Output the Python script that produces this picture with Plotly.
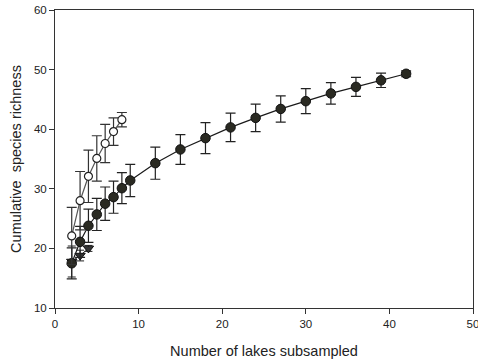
import plotly.graph_objects as go

# Open circles
open_x = [2, 3, 4, 5, 6, 7, 8]
open_y = [22.1, 28.0, 32.1, 35.1, 37.6, 39.6, 41.6]
open_err = [4.8, 4.9, 4.4, 3.8, 3.2, 2.3, 1.2]

# Filled circles
fill_x = [2, 3, 4, 5, 6, 7, 8, 9, 12, 15, 18, 21, 24, 27, 30, 33, 36, 39, 42]
fill_y = [17.5, 21.1, 23.8, 25.7, 27.5, 28.6, 30.1, 31.4, 34.3, 36.6, 38.5, 40.3, 41.9, 43.4, 44.7, 46.0, 47.1, 48.2, 49.3]
fill_err = [2.6, 2.6, 2.8, 2.7, 2.8, 2.7, 2.6, 2.7, 2.7, 2.5, 2.6, 2.4, 2.3, 2.2, 2.1, 1.8, 1.6, 1.2, 0.5]

# Triangles
tri_x = [2, 3, 4]
tri_y = [17.8, 18.8, 20.0]
tri_err = [2.6, 0.9, 0.5]

fig = go.Figure()
fig.add_trace(go.Scatter(
    x=tri_x, y=tri_y, mode="lines+markers",
    line=dict(color="#222", width=1),
    marker=dict(symbol="triangle-down", size=9, color="#333", line=dict(color="#111", width=1)),
    error_y=dict(type="data", array=tri_err, color="#222", thickness=1, width=4),
    showlegend=False))
fig.add_trace(go.Scatter(
    x=fill_x, y=fill_y, mode="lines+markers",
    line=dict(color="#1a1a1a", width=1.2),
    marker=dict(symbol="circle", size=9.5, color="#2a2a22", line=dict(color="#111", width=1)),
    error_y=dict(type="data", array=fill_err, color="#222", thickness=1.2, width=5),
    showlegend=False))
fig.add_trace(go.Scatter(
    x=open_x, y=open_y, mode="lines+markers",
    line=dict(color="#555", width=1.2),
    marker=dict(symbol="circle", size=8, color="white", line=dict(color="#222", width=1.2)),
    error_y=dict(type="data", array=open_err, color="#333", thickness=1.2, width=5),
    showlegend=False))

fig.update_layout(
    width=478, height=363,
    margin=dict(l=55, r=5, t=10, b=55, autoexpand=False),
    paper_bgcolor="white", plot_bgcolor="white",
    font=dict(family="Liberation Sans, Arial, sans-serif", color="#222", size=11.5),
)
fig.update_xaxes(
    range=[0, 50], tickvals=[0, 10, 20, 30, 40, 50],
    showgrid=False, zeroline=False, showline=True, linecolor="#333", linewidth=1,
    mirror=True, ticks="outside", ticklen=5, tickcolor="#333",
    ticklabeloverflow="allow",
    title=dict(text="Number of lakes subsampled", font=dict(size=14.5), standoff=17),
    automargin=False,
)
fig.update_yaxes(
    range=[10, 60], tickvals=[10, 20, 30, 40, 50, 60],
    showgrid=False, zeroline=False, showline=True, linecolor="#333", linewidth=1,
    mirror=True, ticks="outside", ticklen=5, tickcolor="#333",
    ticklabeloverflow="allow",
    title=dict(text="Cumulative  species richness", font=dict(size=14.5), standoff=8),
    automargin=False,
)

fig.write_html("out.html", config={"displayModeBar": False},
               post_script="document.body.style.margin='0';document.body.style.overflow='hidden';")
